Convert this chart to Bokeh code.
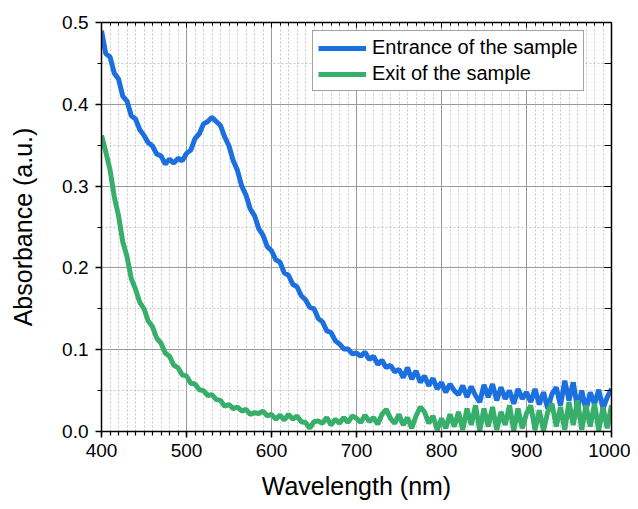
from bokeh.plotting import figure
from bokeh.models import (LinearAxis, SingleIntervalTicker, PrintfTickFormatter,
                          Legend, LegendItem, Range1d, Grid, CustomJSTickFormatter)
from bokeh.embed import file_html
from bokeh.resources import INLINE

wavelength = list(range(400, 1001, 5))

entrance = [
    0.490, 0.462, 0.458, 0.438, 0.431, 0.410, 0.404, 0.386, 0.382, 0.369,
    0.362, 0.353, 0.349, 0.339, 0.337, 0.327, 0.333, 0.328, 0.334, 0.331,
    0.340, 0.344, 0.358, 0.364, 0.376, 0.379, 0.384, 0.379, 0.374, 0.360,
    0.349, 0.331, 0.319, 0.300, 0.289, 0.272, 0.264, 0.248, 0.240, 0.226,
    0.221, 0.210, 0.207, 0.194, 0.191, 0.180, 0.177, 0.166, 0.161, 0.152,
    0.150, 0.138, 0.134, 0.123, 0.121, 0.111, 0.107, 0.101, 0.101, 0.095,
    0.096, 0.092, 0.097, 0.088, 0.092, 0.082, 0.087, 0.078, 0.081, 0.073,
    0.076, 0.066, 0.078, 0.064, 0.074, 0.060, 0.068, 0.056, 0.065, 0.052,
    0.060, 0.048, 0.058, 0.050, 0.045, 0.056, 0.042, 0.055, 0.044, 0.036,
    0.057, 0.042, 0.058, 0.038, 0.054, 0.040, 0.050, 0.034, 0.052, 0.040,
    0.048, 0.036, 0.052, 0.033, 0.048, 0.028, 0.046, 0.054, 0.032, 0.062,
    0.038, 0.060, 0.028, 0.050, 0.026, 0.048, 0.033, 0.051, 0.028, 0.042,
    0.052,
]

exit_ = [
    0.362, 0.342, 0.320, 0.287, 0.264, 0.232, 0.214, 0.187, 0.174, 0.158,
    0.150, 0.135, 0.128, 0.114, 0.108, 0.096, 0.092, 0.081, 0.078, 0.069,
    0.068, 0.059, 0.058, 0.051, 0.050, 0.044, 0.045, 0.039, 0.038, 0.031,
    0.033, 0.028, 0.030, 0.025, 0.027, 0.021, 0.023, 0.022, 0.025, 0.019,
    0.021, 0.015, 0.020, 0.014, 0.021, 0.015, 0.019, 0.012, 0.011, 0.004,
    0.012, 0.013, 0.010, 0.017, 0.008, 0.015, 0.010, 0.017, 0.011, 0.019,
    0.016, 0.011, 0.020, 0.012, 0.017, 0.009, 0.021, 0.027, 0.016, 0.010,
    0.021, 0.008, 0.017, 0.004, 0.019, 0.030, 0.024, 0.010, 0.019, 0.002,
    0.016, 0.004, 0.021, 0.006, 0.024, 0.002, 0.028, 0.008, 0.032, 0.001,
    0.028, 0.006, 0.030, 0.002, 0.024, 0.008, 0.032, 0.001, 0.028, 0.004,
    0.022, 0.032, 0.002, 0.026, 0.001, 0.024, 0.034, 0.006, 0.030, 0.002,
    0.036, 0.008, 0.038, 0.002, 0.032, 0.006, 0.034, 0.001, 0.030, 0.004,
    0.032,
]

series_names = ["Entrance of the sample", "Exit of the sample"]
colors = ["#1b6fdf", "#38ae6b"]

FONT = "Liberation Sans"

p = figure(width=630, height=509, output_backend="svg", toolbar_location=None,
           x_range=Range1d(400, 1000), y_range=Range1d(0, 0.5),
           min_border_left=101, min_border_top=22, min_border_right=19,
           min_border_bottom=78, x_axis_type=None, y_axis_type=None)
p.outline_line_color = None
p.background_fill_color = "white"
p.border_fill_color = "white"

xt = SingleIntervalTicker(interval=100, num_minor_ticks=10)
yt = SingleIntervalTicker(interval=0.1, num_minor_ticks=2)

xb = LinearAxis(ticker=xt, axis_label="Wavelength (nm)")
yl = LinearAxis(ticker=yt, axis_label="Absorbance (a.u.)",
                formatter=PrintfTickFormatter(format="%.1f"))
for ax in (xb, yl):
    ax.axis_line_color = "black"
    ax.axis_line_width = 1.5
    ax.major_tick_line_color = "black"
    ax.minor_tick_line_color = "black"
    ax.major_tick_line_width = 1.5
    ax.minor_tick_line_width = 1.2
    ax.major_tick_out = 6
    ax.major_tick_in = 0
    ax.minor_tick_out = 4
    ax.minor_tick_in = 0
    ax.major_label_text_font = FONT
    ax.major_label_text_font_size = "19px"
    ax.major_label_text_color = "black"
    ax.axis_label_text_font = FONT
    ax.axis_label_text_font_size = "25px"
    ax.axis_label_text_font_style = "normal"
    ax.axis_label_text_color = "black"
xb.major_label_standoff = 6
xb.axis_label_standoff = 12
yl.major_label_standoff = 7
yl.axis_label_standoff = 22
p.add_layout(xb, "below")
p.add_layout(yl, "left")

blank = CustomJSTickFormatter(code="return ''")
xtop = LinearAxis(ticker=SingleIntervalTicker(interval=100, num_minor_ticks=10),
                  formatter=blank)
yright = LinearAxis(ticker=SingleIntervalTicker(interval=0.1, num_minor_ticks=2),
                    formatter=blank)
for ax in (xtop, yright):
    ax.axis_line_color = "black"
    ax.axis_line_width = 1.5
    ax.major_tick_line_color = "black"
    ax.minor_tick_line_color = "black"
    ax.major_tick_in = 5
    ax.major_tick_out = 0
    ax.major_label_standoff = 0
xtop.minor_tick_in = 3
xtop.minor_tick_out = 0
yright.major_tick_in = 7
yright.minor_tick_in = 7
yright.minor_tick_out = 0
p.add_layout(xtop, "above")
p.add_layout(yright, "right")

gx = Grid(dimension=0, ticker=xt)
gy = Grid(dimension=1, ticker=yt)
for g in (gx, gy):
    g.grid_line_color = "#9a9a9a"
    g.grid_line_width = 1
    g.minor_grid_line_color = "#c8c8c8"
    g.minor_grid_line_dash = "2 2"
    g.minor_grid_line_width = 1
p.add_layout(gx)
p.add_layout(gy)

r1 = p.line(wavelength, entrance, line_color=colors[0], line_width=5)
r2 = p.line(wavelength, exit_, line_color=colors[1], line_width=5)

legend = Legend(items=[LegendItem(label=series_names[0], renderers=[r1]),
                       LegendItem(label=series_names[1], renderers=[r2])],
                location=(211, 340))
legend.label_text_font = FONT
legend.label_text_font_size = "20px"
legend.label_text_color = "black"
legend.glyph_width = 48
legend.glyph_height = 22
legend.label_height = 22
legend.label_standoff = 6
legend.spacing = 3
legend.padding = 5
legend.margin = 0
legend.border_line_color = "#444444"
legend.border_line_width = 1.2
legend.background_fill_alpha = 1
p.add_layout(legend, "center")

open("out.html", "w").write(file_html(p, INLINE))
